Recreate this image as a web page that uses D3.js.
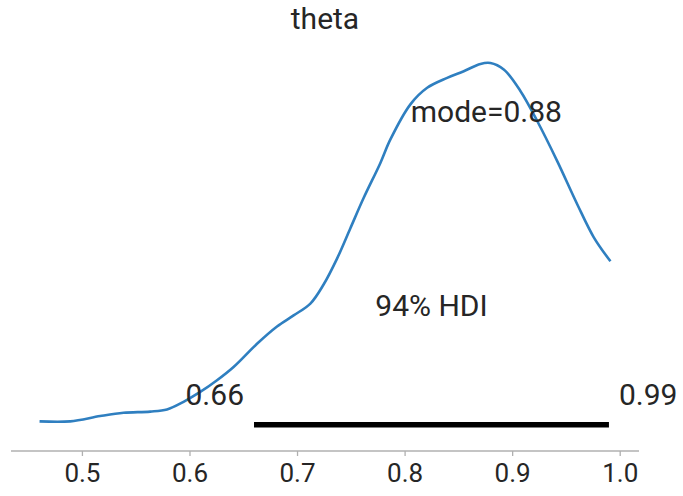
<!DOCTYPE html>
<html>
<head>
<meta charset="utf-8">
<script src="https://cdnjs.cloudflare.com/ajax/libs/d3/7.8.5/d3.min.js"></script>
<style>
  body { margin: 0; background: #fff; }
  text { font-family: Roboto, "DejaVu Sans", sans-serif; fill: #262626; }
</style>
</head>
<body>
<div id="chart"></div>
<script>
// Posterior of theta
var thetaGrid = [0.4606, 0.4891, 0.517, 0.5387, 0.5635, 0.5791, 0.5945, 0.61, 0.6256, 0.641,
    0.6628, 0.6814, 0.6968, 0.7124, 0.7247, 0.7372, 0.7496, 0.762, 0.7775, 0.7868,
    0.8054, 0.821, 0.8396, 0.855, 0.8705, 0.8798, 0.8922, 0.9078, 0.9233, 0.9419,
    0.9605, 0.9759, 0.9914];
var density = [0.123, 0.123, 0.181, 0.217, 0.230, 0.254, 0.338, 0.446, 0.575, 0.721,
    0.976, 1.166, 1.288, 1.418, 1.628, 1.913, 2.247, 2.581, 2.965, 3.223,
    3.609, 3.791, 3.900, 3.973, 4.054, 4.064, 3.993, 3.754, 3.426, 2.985,
    2.511, 2.147, 1.883];
var hdiBounds = [0.66, 0.99];
var hdiLabels = ["0.66", "0.99"];
var hdiText = "94% HDI";
var modeValue = 0.876;
var modeText = "mode=0.88";
var xTicks = [0.5, 0.6, 0.7, 0.8, 0.9, 1.0];
var title = "theta";

var svgWidth = 683;
var svgHeight = 496;

var svg = d3.select("#chart")
    .append("svg")
    .attr("width", svgWidth)
    .attr("height", svgHeight);

var points = thetaGrid.map(function(t, i) { return {theta: t, dens: density[i]}; });

// x limits get a 5% margin like matplotlib
var xExt = d3.extent(thetaGrid);
var pad = (xExt[1] - xExt[0]) * 0.05;
var xScale = d3.scaleLinear()
    .domain([xExt[0] - pad, xExt[1] + pad])
    .range([11, 639]);

var peak = d3.max(density);
var yScale = d3.scaleLinear()
    .domain([-0.05 * peak, 1.05 * peak])
    .range([451, 44.5]);
var plotHeight = 1.05 * peak;

// KDE line
var line = d3.line()
    .x(d => xScale(d.theta))
    .y(d => yScale(d.dens))
    .curve(d3.curveCatmullRom);

svg.append("path")
    .datum(points)
    .attr("d", line)
    .attr("fill", "none")
    .attr("stroke", "#2f7fc0")
    .attr("stroke-width", 2.6);

// HDI bar
svg.append("line")
    .attr("x1", xScale(hdiBounds[0]))
    .attr("x2", xScale(hdiBounds[1]))
    .attr("y1", yScale(plotHeight * 0.02))
    .attr("y2", yScale(plotHeight * 0.02))
    .attr("stroke", "black")
    .attr("stroke-width", 5.5);

svg.append("text")
    .attr("x", xScale(hdiBounds[0]) - 10)
    .attr("y", yScale(plotHeight * 0.07))
    .attr("text-anchor", "end")
    .style("font-size", "30px")
    .text(hdiLabels[0]);

svg.append("text")
    .attr("x", xScale(hdiBounds[1]) + 10)
    .attr("y", yScale(plotHeight * 0.07))
    .attr("text-anchor", "start")
    .style("font-size", "30px")
    .text(hdiLabels[1]);

svg.append("text")
    .attr("x", xScale((hdiBounds[0] + hdiBounds[1]) / 2))
    .attr("y", yScale(plotHeight * 0.3))
    .attr("text-anchor", "middle")
    .style("font-size", "30px")
    .text(hdiText);

// point estimate
svg.append("text")
    .attr("x", xScale(modeValue))
    .attr("y", yScale(plotHeight * 0.8))
    .attr("text-anchor", "middle")
    .style("font-size", "30px")
    .text(modeText);

// title
svg.append("text")
    .attr("x", (xScale.range()[0] + xScale.range()[1]) / 2)
    .attr("y", 29)
    .attr("text-anchor", "middle")
    .style("font-size", "30px")
    .text(title);

// bottom axis only
var bottomAxis = d3.axisBottom(xScale)
    .tickValues(xTicks)
    .tickFormat(d3.format(".1f"))
    .tickSize(5)
    .tickPadding(8);

var axisG = svg.append("g")
    .attr("transform", "translate(0, 451)")
    .call(bottomAxis);

axisG.select(".domain")
    .attr("stroke", "#b0b0b0")
    .attr("stroke-width", 1.3)
    .attr("d", "M" + xScale.range()[0] + ",0H" + xScale.range()[1]);
axisG.selectAll(".tick line")
    .attr("stroke", "#b0b0b0")
    .attr("stroke-width", 1.3);
axisG.selectAll(".tick text")
    .style("font-size", "26px")
    .style("font-family", "Roboto, sans-serif")
    .attr("fill", "#262626");
</script>
</body>
</html>
